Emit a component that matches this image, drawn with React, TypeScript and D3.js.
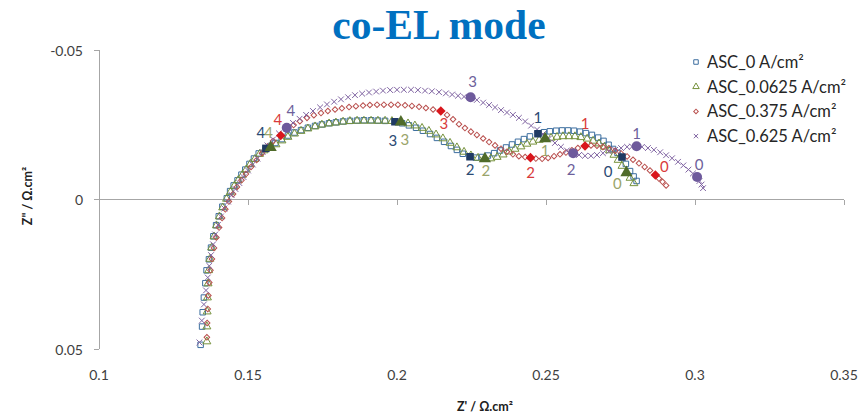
import React from "react";
import * as d3 from "d3";

// ---- data: Nyquist spectra, Z' and Z'' in Ω.cm² ----
const seriesNames = ["ASC_0 A/cm²", "ASC_0.0625 A/cm²", "ASC_0.375 A/cm²", "ASC_0.625 A/cm²"];
const decadeLabels = ["0", "1", "2", "3", "4"];
const xTicks = [0.1, 0.15, 0.2, 0.25, 0.3, 0.35];
const yTicks = [-0.05, 0, 0.05];

const asc0Re = [0.1341, 0.1346, 0.1348, 0.1352, 0.1357, 0.1361, 0.1369, 0.1376, 0.1384, 0.1393, 0.1402, 0.1414, 0.1429, 0.1440, 0.1452, 0.1465, 0.1478, 0.1491, 0.1505, 0.1520, 0.1536, 0.1560, 0.1576, 0.1592, 0.1613, 0.1634, 0.1656, 0.1678, 0.1701, 0.1725, 0.1748, 0.1772, 0.1795, 0.1819, 0.1842, 0.1866, 0.1889, 0.1913, 0.1936, 0.1960, 0.1993, 0.2017, 0.2040, 0.2064, 0.2087, 0.2111, 0.2134, 0.2158, 0.2181, 0.2201, 0.2221, 0.2245, 0.2265, 0.2285, 0.2305, 0.2326, 0.2346, 0.2366, 0.2386, 0.2406, 0.2426, 0.2446, 0.2473, 0.2493, 0.2513, 0.2534, 0.2554, 0.2574, 0.2594, 0.2614, 0.2634, 0.2654, 0.2675, 0.2693, 0.2710, 0.2725, 0.2740, 0.2755, 0.2768, 0.2782, 0.2794, 0.2804];
const asc0Im = [0.0486, 0.0425, 0.0377, 0.0328, 0.0280, 0.0237, 0.0200, 0.0161, 0.0123, 0.0086, 0.0056, 0.0024, -0.0004, -0.0028, -0.0047, -0.0064, -0.0083, -0.0100, -0.0119, -0.0137, -0.0154, -0.0171, -0.0179, -0.0189, -0.0202, -0.0214, -0.0224, -0.0232, -0.0240, -0.0246, -0.0251, -0.0255, -0.0258, -0.0261, -0.0263, -0.0264, -0.0265, -0.0265, -0.0264, -0.0263, -0.0260, -0.0255, -0.0248, -0.0240, -0.0230, -0.0219, -0.0206, -0.0193, -0.0179, -0.0166, -0.0153, -0.0143, -0.0140, -0.0142, -0.0147, -0.0155, -0.0164, -0.0174, -0.0184, -0.0193, -0.0202, -0.0211, -0.0220, -0.0225, -0.0228, -0.0230, -0.0231, -0.0231, -0.0230, -0.0227, -0.0222, -0.0216, -0.0207, -0.0196, -0.0183, -0.0169, -0.0156, -0.0142, -0.0119, -0.0095, -0.0077, -0.0062];
const asc0Decades = [77, 62, 51, 40, 21];

const asc00625Re = [0.1362, 0.1362, 0.1363, 0.1364, 0.1366, 0.1368, 0.1372, 0.1378, 0.1386, 0.1394, 0.1404, 0.1415, 0.1428, 0.1441, 0.1454, 0.1467, 0.1481, 0.1494, 0.1508, 0.1523, 0.1539, 0.1554, 0.1576, 0.1594, 0.1614, 0.1634, 0.1656, 0.1678, 0.1701, 0.1725, 0.1748, 0.1772, 0.1795, 0.1819, 0.1842, 0.1866, 0.1889, 0.1913, 0.1936, 0.1960, 0.1983, 0.2013, 0.2037, 0.2060, 0.2084, 0.2107, 0.2131, 0.2154, 0.2178, 0.2201, 0.2225, 0.2248, 0.2272, 0.2295, 0.2315, 0.2336, 0.2356, 0.2376, 0.2396, 0.2416, 0.2436, 0.2456, 0.2477, 0.2497, 0.2517, 0.2537, 0.2557, 0.2577, 0.2597, 0.2617, 0.2638, 0.2658, 0.2678, 0.2696, 0.2713, 0.2728, 0.2742, 0.2755, 0.2770, 0.2782, 0.2795];
const asc00625Im = [0.0475, 0.0425, 0.0375, 0.0328, 0.0281, 0.0237, 0.0199, 0.0161, 0.0124, 0.0087, 0.0057, 0.0027, -0.0002, -0.0025, -0.0045, -0.0064, -0.0082, -0.0100, -0.0119, -0.0135, -0.0152, -0.0164, -0.0174, -0.0184, -0.0197, -0.0209, -0.0220, -0.0229, -0.0237, -0.0244, -0.0250, -0.0254, -0.0257, -0.0260, -0.0262, -0.0263, -0.0263, -0.0263, -0.0263, -0.0263, -0.0262, -0.0259, -0.0254, -0.0247, -0.0239, -0.0229, -0.0217, -0.0204, -0.0189, -0.0174, -0.0159, -0.0147, -0.0139, -0.0136, -0.0137, -0.0142, -0.0150, -0.0160, -0.0169, -0.0177, -0.0186, -0.0193, -0.0199, -0.0203, -0.0206, -0.0209, -0.0211, -0.0211, -0.0211, -0.0208, -0.0203, -0.0196, -0.0187, -0.0176, -0.0164, -0.0149, -0.0132, -0.0112, -0.0090, -0.0072, -0.0054];
const asc00625Decades = [78, 63, 53, 41, 22];

const asc0375Re = [0.1362, 0.1363, 0.1365, 0.1367, 0.1370, 0.1374, 0.1379, 0.1386, 0.1394, 0.1403, 0.1413, 0.1424, 0.1436, 0.1450, 0.1463, 0.1478, 0.1493, 0.1510, 0.1529, 0.1547, 0.1565, 0.1584, 0.1610, 0.1631, 0.1653, 0.1674, 0.1698, 0.1721, 0.1745, 0.1768, 0.1792, 0.1815, 0.1839, 0.1862, 0.1886, 0.1909, 0.1933, 0.1956, 0.1980, 0.2003, 0.2027, 0.2050, 0.2074, 0.2097, 0.2121, 0.2147, 0.2168, 0.2188, 0.2208, 0.2228, 0.2248, 0.2268, 0.2289, 0.2309, 0.2329, 0.2349, 0.2369, 0.2389, 0.2409, 0.2430, 0.2448, 0.2466, 0.2487, 0.2507, 0.2527, 0.2547, 0.2567, 0.2587, 0.2607, 0.2631, 0.2651, 0.2671, 0.2691, 0.2711, 0.2732, 0.2752, 0.2772, 0.2792, 0.2812, 0.2831, 0.2849, 0.2867, 0.2879, 0.2891, 0.2903];
const asc0375Im = [0.0461, 0.0413, 0.0366, 0.0321, 0.0278, 0.0237, 0.0199, 0.0162, 0.0127, 0.0094, 0.0062, 0.0033, 0.0007, -0.0018, -0.0042, -0.0064, -0.0085, -0.0109, -0.0132, -0.0155, -0.0177, -0.0196, -0.0214, -0.0234, -0.0249, -0.0262, -0.0273, -0.0282, -0.0289, -0.0296, -0.0301, -0.0305, -0.0309, -0.0312, -0.0314, -0.0316, -0.0317, -0.0317, -0.0317, -0.0317, -0.0315, -0.0313, -0.0310, -0.0306, -0.0301, -0.0296, -0.0283, -0.0268, -0.0252, -0.0239, -0.0227, -0.0216, -0.0204, -0.0192, -0.0181, -0.0170, -0.0160, -0.0151, -0.0145, -0.0142, -0.0140, -0.0137, -0.0136, -0.0139, -0.0145, -0.0151, -0.0157, -0.0165, -0.0172, -0.0179, -0.0181, -0.0180, -0.0176, -0.0171, -0.0163, -0.0154, -0.0144, -0.0133, -0.0121, -0.0109, -0.0097, -0.0082, -0.0070, -0.0059, -0.0047];
const asc0375Decades = [81, 69, 60, 45, 22];

const asc0625Re = [0.1337, 0.1345, 0.1352, 0.1359, 0.1365, 0.1370, 0.1376, 0.1383, 0.1390, 0.1399, 0.1409, 0.1421, 0.1433, 0.1445, 0.1458, 0.1471, 0.1485, 0.1500, 0.1516, 0.1532, 0.1549, 0.1565, 0.1584, 0.1604, 0.1630, 0.1651, 0.1673, 0.1695, 0.1718, 0.1742, 0.1765, 0.1789, 0.1812, 0.1836, 0.1859, 0.1883, 0.1906, 0.1930, 0.1953, 0.1977, 0.2000, 0.2023, 0.2047, 0.2070, 0.2094, 0.2117, 0.2141, 0.2164, 0.2185, 0.2205, 0.2225, 0.2247, 0.2268, 0.2289, 0.2309, 0.2329, 0.2349, 0.2369, 0.2389, 0.2409, 0.2430, 0.2450, 0.2470, 0.2490, 0.2510, 0.2530, 0.2550, 0.2570, 0.2591, 0.2611, 0.2631, 0.2651, 0.2671, 0.2691, 0.2711, 0.2732, 0.2752, 0.2772, 0.2789, 0.2804, 0.2822, 0.2842, 0.2862, 0.2883, 0.2903, 0.2923, 0.2943, 0.2961, 0.2978, 0.2993, 0.3007, 0.3015, 0.3022, 0.3027];
const asc0625Im = [0.0478, 0.0405, 0.0351, 0.0304, 0.0261, 0.0222, 0.0186, 0.0150, 0.0117, 0.0085, 0.0057, 0.0030, 0.0007, -0.0015, -0.0035, -0.0055, -0.0075, -0.0097, -0.0117, -0.0137, -0.0159, -0.0181, -0.0201, -0.0221, -0.0240, -0.0256, -0.0270, -0.0283, -0.0296, -0.0308, -0.0318, -0.0327, -0.0335, -0.0342, -0.0349, -0.0354, -0.0358, -0.0361, -0.0364, -0.0366, -0.0367, -0.0367, -0.0367, -0.0366, -0.0364, -0.0362, -0.0359, -0.0355, -0.0351, -0.0347, -0.0344, -0.0342, -0.0333, -0.0324, -0.0316, -0.0308, -0.0299, -0.0291, -0.0283, -0.0273, -0.0261, -0.0247, -0.0234, -0.0219, -0.0204, -0.0189, -0.0176, -0.0164, -0.0155, -0.0149, -0.0146, -0.0146, -0.0149, -0.0155, -0.0161, -0.0166, -0.0172, -0.0176, -0.0177, -0.0178, -0.0176, -0.0172, -0.0166, -0.0158, -0.0148, -0.0138, -0.0126, -0.0114, -0.0100, -0.0087, -0.0075, -0.0062, -0.0050, -0.0038];
const asc0625Decades = [90, 79, 68, 51, 24];

// ---- layout & styling ----
const W = 862;
const H = 416;
const FONT = "Lato, 'Open Sans', sans-serif";

type Shape = "square" | "triangle" | "diamond" | "cross";

const styles: { shape: Shape; stroke: string; fill: string; text: string; labelOffsets: [number, number][] }[] = [
  { shape: "square", stroke: "#3c6e9f", fill: "#1f3a63", text: "#2b4a73",
    labelOffsets: [[-14, 14], [0, -17], [0, 12], [-2, 18], [-5, -16]] },
  { shape: "triangle", stroke: "#76923c", fill: "#4f6b2a", text: "#9aa46a",
    labelOffsets: [[-9, 10], [0, 11], [1, 11], [4, 17], [-2, -15]] },
  { shape: "diamond", stroke: "#b9504e", fill: "#d9161c", text: "#d93b3b",
    labelOffsets: [[9, -9], [0, -23], [0, 14], [3, 12], [-3, -17]] },
  { shape: "cross", stroke: "#8064a2", fill: "#6e5a9c", text: "#6e5f9b",
    labelOffsets: [[2, -13], [0, -13], [-2, 16], [2, -16], [4, -18]] },
];

const series = [
  { re: asc0Re, im: asc0Im, decades: asc0Decades },
  { re: asc00625Re, im: asc00625Im, decades: asc00625Decades },
  { re: asc0375Re, im: asc0375Im, decades: asc0375Decades },
  { re: asc0625Re, im: asc0625Im, decades: asc0625Decades },
];

const x = d3.scaleLinear().domain([0.1, 0.35]).range([99, 844]);
const y = d3.scaleLinear().domain([-0.05, 0.05]).range([50, 349]);

const squarePath = (s: number) => d3.symbol(d3.symbolSquare, s * s)()!;
const trianglePath = (s: number) => d3.symbol(d3.symbolTriangle, s * s * 0.9)()!;
const circlePath = (s: number) => d3.symbol(d3.symbolCircle, Math.PI * (s / 2) * (s / 2))()!;
const crossPath = (s: number) => d3.symbol(d3.symbolTimes, s * s * 0.55)()!;

function Marker({ shape, size, stroke, fill, sw = 1 }: { shape: Shape; size: number; stroke: string; fill: string; sw?: number }) {
  if (shape === "square") return <path d={squarePath(size)} fill={fill} stroke={stroke} strokeWidth={sw} />;
  if (shape === "triangle") return <path d={trianglePath(size)} fill={fill} stroke={stroke} strokeWidth={sw} />;
  if (shape === "diamond")
    return <path d={squarePath(size * 0.72)} transform="rotate(45)" fill={fill} stroke={stroke} strokeWidth={sw} />;
  return <path d={crossPath(size)} fill="none" stroke={stroke} strokeWidth={sw} />;
}

function DecadeMarker({ shape, color }: { shape: Shape; color: string }) {
  if (shape === "square") return <path d={squarePath(7.5)} fill={color} />;
  if (shape === "triangle") return <path d={trianglePath(8.5)} fill={color} />;
  if (shape === "diamond") return <path d={squarePath(6.8)} transform="rotate(45)" fill={color} />;
  return <path d={circlePath(10)} fill={color} />;
}

const fmt = (v: number) => String(+v.toFixed(2));

export default function App() {
  return (
    <svg width={W} height={H} style={{ position: "absolute", left: 0, top: 0, background: "#fff" }} fontFamily={FONT}>
      <rect width={W} height={H} fill="#fff" />
      <text x={439} y={39} textAnchor="middle" fontFamily="'Liberation Serif', 'Times New Roman', serif" fontWeight="bold" fontSize={41.5} fill="#0070c0">
        co-EL mode
      </text>

      {/* axes */}
      <g stroke="#a6a6a6" strokeWidth={1} shapeRendering="crispEdges">
        <line x1={x(0.1)} x2={x(0.1)} y1={y(-0.05)} y2={y(0.05)} />
        <line x1={x(0.1)} x2={x(0.35)} y1={y(0)} y2={y(0)} />
        {yTicks.map((t) => (
          <line key={"yt" + t} x1={x(0.1) - 5} x2={x(0.1)} y1={y(t)} y2={y(t)} />
        ))}
        {xTicks.slice(1).map((t) => (
          <line key={"xt" + t} x1={x(t)} x2={x(t)} y1={y(0)} y2={y(0) + 5} />
        ))}
      </g>
      <g fill="#404040" fontSize={14}>
        {yTicks.map((t) => (
          <text key={"yl" + t} x={x(0.1) - 16} y={y(t)} textAnchor="end" dominantBaseline="central">
            {fmt(t)}
          </text>
        ))}
        {xTicks.map((t) => (
          <text key={"xl" + t} x={x(t)} y={374} textAnchor="middle" dominantBaseline="central">
            {fmt(t)}
          </text>
        ))}
      </g>
      <text x={485} y={406} textAnchor="middle" dominantBaseline="central" fontWeight="bold" fontSize={12.5} fill="#202020">
        Z' / Ω.cm²
      </text>
      <text transform="translate(27,196) rotate(-90)" textAnchor="middle" dominantBaseline="central" fontWeight="bold" fontSize={12.5} fill="#202020">
        Z" / Ω.cm²
      </text>

      {/* spectra */}
      {series.map((s, si) => (
        <g key={"s" + si}>
          {s.re.map((r, i) => (
            <g key={i} transform={`translate(${x(r)},${y(s.im[i])})`}>
              <Marker shape={styles[si].shape} size={styles[si].shape === "cross" ? 6.5 : 5.5} stroke={styles[si].stroke} fill="none" />
            </g>
          ))}
        </g>
      ))}

      {/* frequency decade markers */}
      {series.map((s, si) => (
        <g key={"d" + si}>
          {s.decades.map((idx, k) => (
            <g key={k} transform={`translate(${x(s.re[idx])},${y(s.im[idx])})`}>
              <DecadeMarker shape={styles[si].shape} color={styles[si].fill} />
            </g>
          ))}
        </g>
      ))}
      {series.map((s, si) => (
        <g key={"l" + si} fill={styles[si].text} fontSize={15}>
          {s.decades.map((idx, k) => (
            <text
              key={k}
              x={x(s.re[idx]) + styles[si].labelOffsets[k][0]}
              y={y(s.im[idx]) + styles[si].labelOffsets[k][1]}
              textAnchor="middle"
              dominantBaseline="central"
            >
              {decadeLabels[k]}
            </text>
          ))}
        </g>
      ))}

      {/* legend */}
      {seriesNames.map((name, i) => {
        const ly = 62 + i * 24.7;
        return (
          <g key={"lg" + i}>
            <g transform={`translate(696,${ly})`}>
              <Marker shape={styles[i].shape} size={styles[i].shape === "cross" ? 5 : 4.5} stroke={styles[i].stroke} fill="none" />
            </g>
            <text x={707} y={ly} dominantBaseline="central" fontSize={16.5} fill="#262626">
              {name}
            </text>
          </g>
        );
      })}
    </svg>
  );
}
